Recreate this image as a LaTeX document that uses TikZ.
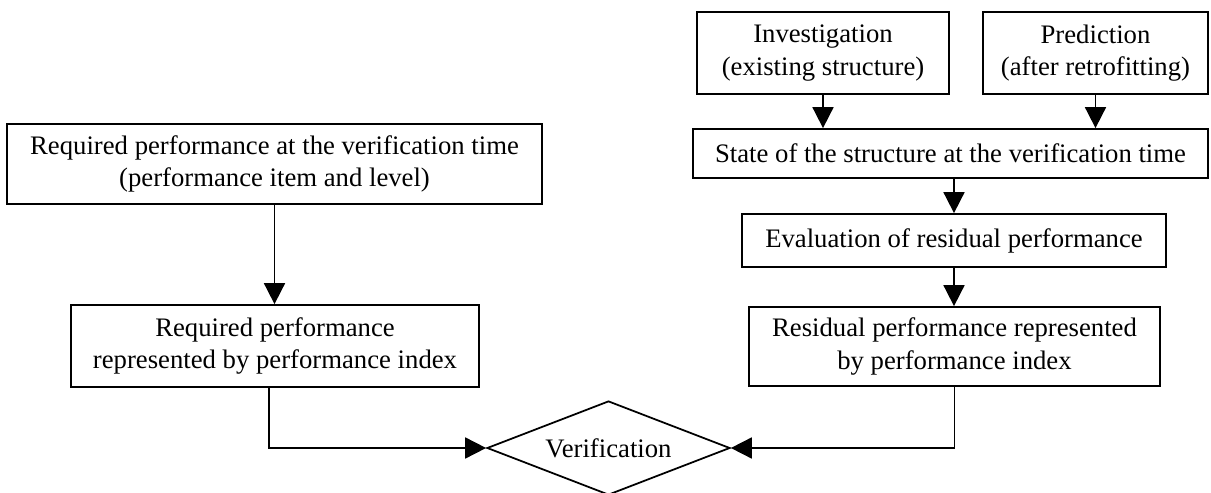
\documentclass[tikz,border=0pt]{standalone}
\usepackage{fontspec}
\setmainfont{Liberation Serif}
\usetikzlibrary{arrows.meta,shapes.geometric}

\begin{document}
\begin{tikzpicture}[x=0.02cm,y=-0.02cm,
  line width=1pt,
  box/.style={draw,align=center,inner sep=2pt,font=\fontsize{15.2}{18.5}\selectfont},
  decision/.style={draw,diamond,shape aspect=2.585,inner sep=0pt,
    minimum width=4.86cm,minimum height=1.88cm,font=\fontsize{15.2}{18.5}\selectfont},
  flow/.style={-{Triangle[length=0.42cm,width=0.42cm]}}]
  \useasboundingbox (0,0) rectangle (1211,493);

  % left branch
  \node[box,minimum width=10.7cm,minimum height=1.6cm] (req) at (274.5,164)
    {Required performance at the verification time\\(performance item and level)};
  \node[box,minimum width=8.16cm,minimum height=1.64cm] (reqidx) at (275,346)
    {Required performance\\represented by performance index};

  % right branch
  \node[box,minimum width=5.04cm,minimum height=1.64cm] (invest) at (823,53)
    {Investigation\\(existing structure)};
  \node[box,minimum width=4.5cm,minimum height=1.64cm] (predict) at (1095.5,53)
    {Prediction\\(after retrofitting)};
  \node[box,minimum width=10.3cm,minimum height=0.98cm] (state) at (950.5,153.5)
    {State of the structure at the verification time};
  \node[box,minimum width=8.48cm,minimum height=1.06cm] (evalres) at (954,240.5)
    {Evaluation of residual performance};
  \node[box,minimum width=8.22cm,minimum height=1.58cm] (residx) at (954.5,346.5)
    {Residual performance represented\\by performance index};

  \node[decision] (verif) at (608.5,448) {Verification};

  % connectors
  \draw[flow] (req.south) -- (req.south |- reqidx.north);
  \draw[flow] (invest.south) -- (invest.south |- state.north);
  \draw[flow] (predict.south) -- (predict.south |- state.north);
  \draw[flow] (evalres.north |- state.south) -- (evalres.north);
  \draw[flow] (evalres.south) -- (evalres.south |- residx.north);
  \draw[flow] ([xshift=-0.12cm]reqidx.south) |- (verif.west);
  \draw[flow] (residx.south) |- (verif.east);
\end{tikzpicture}
\end{document}
